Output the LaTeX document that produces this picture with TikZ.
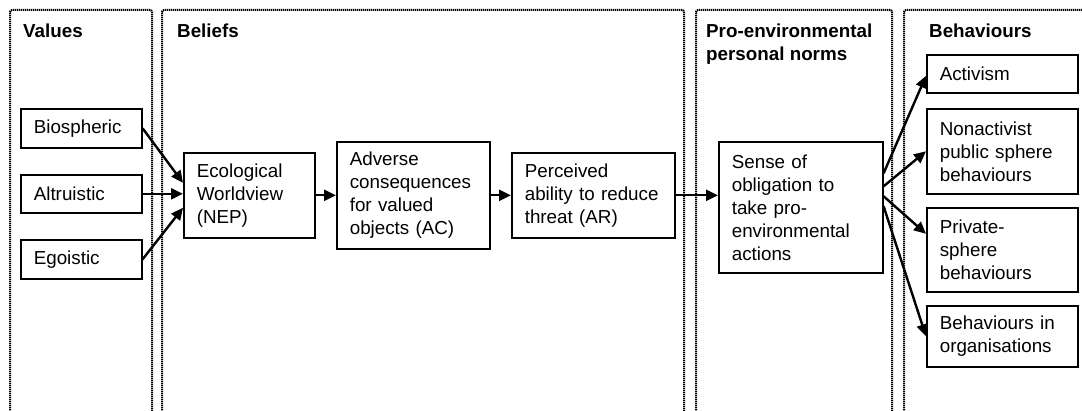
\documentclass[tikz,border=0pt]{standalone}
\usepackage{fontspec}
\setmainfont{Liberation Sans}
\usetikzlibrary{arrows.meta}
\begin{document}
\begin{tikzpicture}[x=1pt,y=-1pt,
  panel/.style={draw, line width=2pt, dash pattern=on 1.3pt off 0.7pt, rounded corners=2pt},
  box/.style={draw, line width=1.6pt, anchor=north west, inner xsep=13pt, inner ysep=0pt,
    align=left, font=\fontsize{18.8}{23}\selectfont},
  head/.style={anchor=north west, inner sep=0pt, align=left,
    font=\fontsize{18.8}{23}\selectfont\bfseries},
  link/.style={line width=2.4pt, -{Triangle[length=12pt,width=11pt]}}
]
\clip (0,0) rectangle (1082,411);
\fill[white] (0,0) rectangle (1082,411);

% column frames, open at the bottom
\draw[panel] (10,430) -- (10,10) -- (152,10) -- (152,430);
\draw[panel] (162,430) -- (162,10) -- (684,10) -- (684,430);
\draw[panel] (696,430) -- (696,10) -- (892,10) -- (892,430);
\draw[panel] (904,430) -- (904,10) -- (1100,10) -- (1100,430);

% column headings
\node[head] (hval) at (23,23.5) {Values};
\node[head] (hbel) at (177,23.5) {Beliefs};
\node[head] (hnorm) at (706,23.5) {Pro-environmental\\personal norms};
\node[head] (hbeh) at (929,23.5) {Behaviours};

% values
\node[box, text width=95pt, minimum height=39pt] (bio) at (20,108) {Biospheric};
\node[box, text width=95pt, minimum height=38pt] (alt) at (20,174) {Altruistic};
\node[box, text width=95pt, minimum height=39pt] (ego) at (20,239) {Egoistic};

% beliefs
\node[box, text width=105pt, minimum height=85pt] (nep) at (183,152) {Ecological\\Worldview\\(NEP)};
\node[box, text width=127pt, minimum height=107pt] (ac) at (336,141) {Adverse\\consequences\\for valued\\objects (AC)};
\node[box, text width=137pt, minimum height=85pt] (ar) at (511,152) {Perceived\\ability to reduce\\threat (AR)};

% personal norm
\node[box, text width=138pt, minimum height=131pt] (sense) at (718,141) {Sense of\\obligation to\\take pro-\\environmental\\actions};

% behaviours
\node[box, text width=125pt, minimum height=38pt] (act) at (926,54) {Activism};
\node[box, text width=125pt, minimum height=85pt] (nonact) at (926,108) {Nonactivist\\public sphere\\behaviours};
\node[box, text width=125pt, minimum height=84pt] (priv) at (926,207) {Private-\\sphere\\behaviours};
\node[box, text width=125pt, minimum height=61pt] (org) at (926,305) {Behaviours in\\organisations};

% causal chain
\draw[link] (bio.east) -- ([yshift=12.5pt]nep.west);
\draw[link] (alt.east) -- (alt.east -| nep.west);
\draw[link] (ego.east) -- ([yshift=-12.5pt]nep.west);
\draw[link] (nep.east) -- (ac.west);
\draw[link] (ac.east) -- (ar.west);
\draw[link] (ar.east) -- (ar.east -| sense.west);
\draw[link] ([yshift=34pt]sense.east) -- ([yshift=-2pt]act.west);
\draw[link] ([yshift=21pt]sense.east) -- (nonact.west);
\draw[link] ([yshift=11pt]sense.east) -- ([yshift=16pt]priv.west);
\draw[link] ([yshift=1pt]sense.east) -- (org.west);
\end{tikzpicture}
\end{document}
